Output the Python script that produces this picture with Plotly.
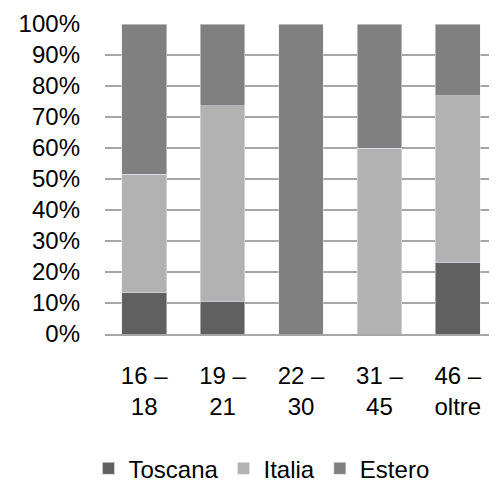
import plotly.graph_objects as go

# age groups
categories = ["16 –<br>18", "19 –<br>21", "22 –<br>30", "31 –<br>45", "46 –<br>oltre"]

# percentage shares per group
toscana = [13.3, 10.5, 0, 0, 23.1]
italia = [38.3, 63.2, 0, 60.0, 53.8]
estero = [48.4, 26.3, 100.0, 40.0, 23.1]

fig = go.Figure()
fig.add_trace(go.Bar(x=categories, y=toscana, name="Toscana", marker_color="#606060"))
fig.add_trace(go.Bar(x=categories, y=italia, name="Italia", marker_color="#b2b2b2"))
fig.add_trace(go.Bar(x=categories, y=estero, name="Estero", marker_color="#808080"))

# page body adds 8px offset, so margins are compensated
fig.update_layout(
    barmode="stack",
    bargap=0.43,
    width=497,
    height=485,
    margin=dict(l=97, r=8, t=16, b=159, autoexpand=False),
    plot_bgcolor="white",
    paper_bgcolor="white",
    font=dict(family="Liberation Sans, Arial", size=24, color="black"),
    showlegend=True,
    legend=dict(orientation="h", x=0.51, xanchor="center", xref="container",
                y=0.05, yanchor="middle", yref="container",
                font=dict(size=24), itemwidth=30, traceorder="normal"),
)
fig.update_yaxes(
    range=[0, 100], dtick=10, ticksuffix="%",
    showgrid=True, gridcolor="#a6a6a6", gridwidth=1.5,
    zeroline=False, ticklabelstandoff=24,
)
fig.update_xaxes(
    showline=True, linecolor="#a6a6a6", linewidth=1.5,
    ticklabelstandoff=19,
)

fig.write_html("out.html")
